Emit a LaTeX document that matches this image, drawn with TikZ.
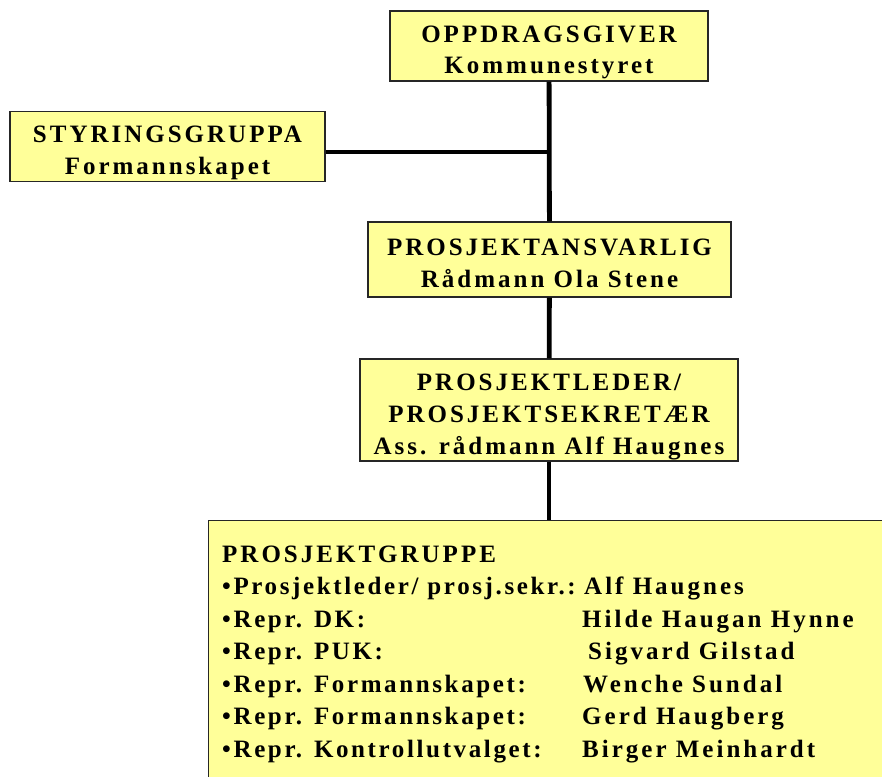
\documentclass[tikz,border=0pt]{standalone}
\usepackage{fontspec}
\newfontfamily\boxfont{Liberation Serif}[LetterSpace=12]
\newfontfamily\rolefont{Liberation Serif}[LetterSpace=10.5]
\definecolor{boxyellow}{HTML}{FFFF99}
% fixed room above the first and below the last line of a box
\newcommand\boxtop{\rule{0pt}{31pt}}
\newcommand\boxbot{\rule[-7pt]{0pt}{7pt}}
\tikzset{
  orgbox/.style={draw=black!85,line width=1.3pt,fill=boxyellow,inner sep=0pt,
    align=center,font=\boxfont\bfseries\fontsize{25}{32}\selectfont},
  link/.style={line width=4.8pt},
  item/.style={anchor=base west,inner sep=0pt,font=\boxfont\bfseries\fontsize{25}{32}\selectfont},
  role/.style={item,font=\rolefont\bfseries\fontsize{25}{32}\selectfont},
}
\begin{document}
\begin{tikzpicture}[x=1pt,y=-1pt]
\useasboundingbox (0,0) rectangle (882,776);
% project group box runs off the page to the right and bottom
\path[clip] (0,0) rectangle (882,776);
\node[orgbox,minimum width=318pt,minimum height=68pt] (giver) at (549,46)
  {\boxtop OPPDRAGSGIVER\\Kommunestyret\boxbot};
\node[orgbox,minimum width=315pt,minimum height=67pt] (styr) at (167.5,146.5)
  {\boxtop STYRINGSGRUPPA\\Formannskapet\boxbot};
\node[orgbox,minimum width=363pt,minimum height=75pt] (ansv) at (549.5,259.5)
  {\boxtop PROSJEKTANSVARLIG\\Rådmann Ola Stene\boxbot};
\node[orgbox,minimum width=378pt,minimum height=98pt] (leder) at (549,410)
  {\boxtop PROSJEKTLEDER/\\PROSJEKTSEKRETÆR\\Ass. rådmann Alf Haugnes\boxbot};
\node[draw=black!85,line width=1.3pt,fill=boxyellow,inner sep=0pt,anchor=north west,
  minimum width=700pt,minimum height=300pt] (gruppe) at (208,520) {};
\coordinate (j) at (549,152);
\draw[link] (giver) -- (ansv);
\draw[link] (ansv) -- (leder);
\draw[link] (leder) -- (leder |- gruppe.north);
\draw[link] (j -| styr.east) -- (j);
% member list
\node[item] (g0) at (222,562) {PROSJEKTGRUPPE};
\node[role] (g1a) at (222,594.5) {•Prosjektleder/ prosj.sekr.:};
\node[item] (g1b) at (584,594.5) {Alf Haugnes};
\node[role] (g2a) at (222,627) {•Repr. DK:};
\node[item] (g2b) at (582,627) {Hilde Haugan Hynne};
\node[role] (g3a) at (222,659.5) {•Repr. PUK:};
\node[item] (g3b) at (588,659.5) {Sigvard Gilstad};
\node[role] (g4a) at (222,692) {•Repr. Formannskapet:};
\node[item] (g4b) at (583,692) {Wenche Sundal};
\node[role] (g5a) at (222,724.5) {•Repr. Formannskapet:};
\node[item] (g5b) at (582,724.5) {Gerd Haugberg};
\node[role] (g6a) at (222,757) {•Repr. Kontrollutvalget:};
\node[item] (g6b) at (582,757) {Birger Meinhardt};
\end{tikzpicture}
\end{document}
